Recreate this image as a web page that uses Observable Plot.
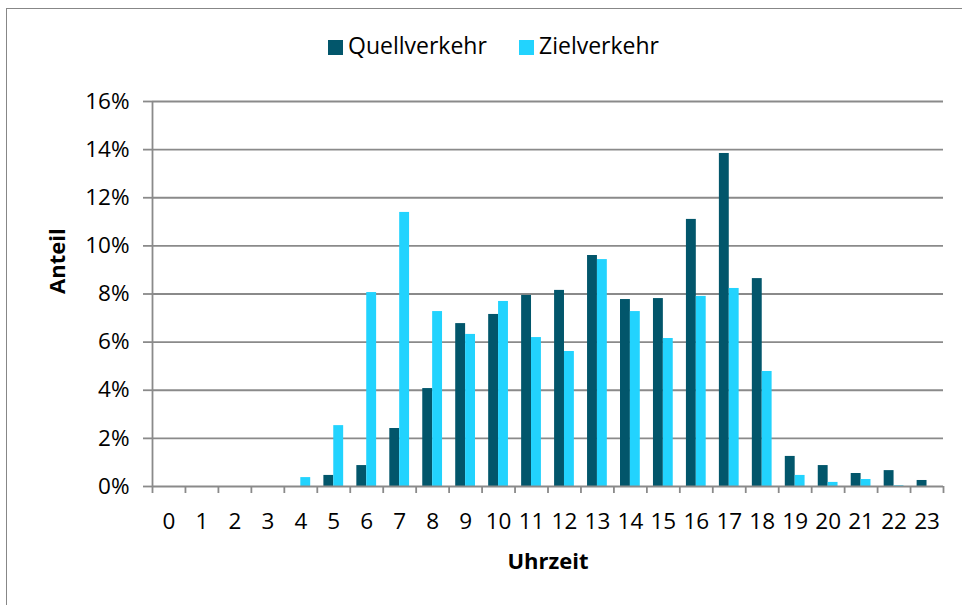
<!DOCTYPE html>
<html>
<head>
<meta charset="utf-8">
<script src="https://cdn.jsdelivr.net/npm/d3@7"></script>
<script src="https://cdn.jsdelivr.net/npm/@observablehq/plot@0.6"></script>
<style>
  html, body { margin: 0; padding: 0; background: #fff; }
  #wrap { position: relative; width: 962px; height: 605px; overflow: hidden; font-family: "Open Sans", sans-serif; }
  #frame { position: absolute; left: 6px; top: 8px; width: 980px; height: 640px; border-left: 1.5px solid #878787; border-top: 1.5px solid #878787; pointer-events: none; }
  #legend, #chart { display: block; }
</style>
</head>
<body>
<div id="wrap">
  <svg id="legend" width="962" height="80"></svg>
  <div id="chart"></div>
  <div id="frame"></div>
</div>
<script>
const hours = [0,1,2,3,4,5,6,7,8,9,10,11,12,13,14,15,16,17,18,19,20,21,22,23];
const quellverkehr = [0,0,0,0,0,0.46,0.87,2.41,4.07,6.77,7.15,7.94,8.15,9.60,7.77,7.81,11.10,13.84,8.64,1.25,0.87,0.54,0.66,0.25];
const zielverkehr = [0,0,0,0,0.37,2.53,8.06,11.39,7.27,6.32,7.69,6.19,5.61,9.43,7.27,6.15,7.90,8.23,4.78,0.46,0.17,0.29,0.03,0];
const seriesNames = ["Quellverkehr", "Zielverkehr"];
const seriesColors = ["#02566b", "#22d3fe"];
const yTicks = [0,2,4,6,8,10,12,14,16];

const rows = [];
hours.forEach((h, i) => {
  rows.push({hour: h, series: seriesNames[0], value: quellverkehr[i]});
  rows.push({hour: h, series: seriesNames[1], value: zielverkehr[i]});
});
const offset = s => s === seriesNames[0] ? 0.2 : 0.5;
const boundaries = hours.concat([hours.length]);
const centers = hours.map(h => h + 0.5);
const gridColor = "#8a8a8a";

const plot = Plot.plot({
  width: 962,
  height: 525,
  marginLeft: 152,
  marginRight: 19,
  marginTop: 21,
  marginBottom: 119,
  style: {fontFamily: "Open Sans, sans-serif", fontSize: "22.5px", color: "#000", background: "#fff"},
  x: {domain: [0, 24], axis: null},
  y: {domain: [0, 16], axis: null},
  color: {domain: seriesNames, range: seriesColors},
  marks: [
    Plot.gridY(yTicks.filter(t => t > 0), {stroke: gridColor, strokeOpacity: 1, strokeWidth: 1.8}),
    Plot.axisY({ticks: yTicks, tickSize: 9, tickPadding: 14, tickFormat: d => d + "%", stroke: gridColor, strokeWidth: 1.8, fill: "#000", fontSize: 22.5, label: null}),
    Plot.rectY(rows, {
      x1: d => d.hour + offset(d.series),
      x2: d => d.hour + offset(d.series) + 0.3,
      y: "value",
      fill: "series"
    }),
    Plot.ruleX([0], {stroke: gridColor, strokeWidth: 1.8}),
    Plot.ruleY([0], {stroke: gridColor, strokeWidth: 1.8}),
    Plot.axisX({ticks: boundaries, tickSize: 7, tickFormat: () => "", stroke: gridColor, strokeWidth: 1.8, label: null}),
    Plot.axisX({ticks: centers, tickSize: 0, tickPadding: 27, tickFormat: d => String(d - 0.5), fill: "#000", fontSize: 22.5, label: null}),
    Plot.text(["Uhrzeit"], {frameAnchor: "bottom", dy: 75, text: d => d, fontWeight: "bold", fontSize: 22, fill: "#000", lineAnchor: "middle"}),
    Plot.text(["Anteil"], {frameAnchor: "left", dx: -95, rotate: -90, text: d => d, fontWeight: "bold", fontSize: 22, fill: "#000", lineAnchor: "middle"})
  ]
});
document.getElementById("chart").appendChild(plot);

// legend
const legend = d3.select("#legend");
const legendX = [328, 519];
seriesNames.forEach((name, i) => {
  legend.append("rect").attr("x", legendX[i]).attr("y", 40).attr("width", 15).attr("height", 15).attr("fill", seriesColors[i]);
  legend.append("text").attr("x", legendX[i] + 20).attr("y", 54)
    .attr("font-family", "Open Sans, sans-serif").attr("font-size", 23).attr("fill", "#000").text(name);
});
</script>
</body>
</html>
